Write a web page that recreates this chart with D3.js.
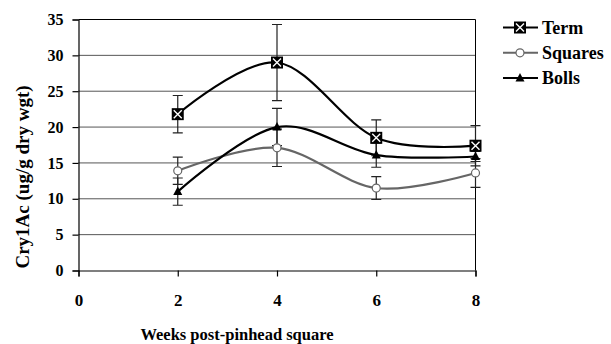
<!DOCTYPE html>
<html>
<head>
<meta charset="utf-8">
<script src="https://cdnjs.cloudflare.com/ajax/libs/d3/7.8.5/d3.min.js"></script>
<style>
	body { margin: 0; background: #fff; }
	svg text { font-family: "Liberation Serif", "Times New Roman", serif !important; font-weight: bold; fill: #000; }
</style>
</head>
<body>
<div id="chart"></div>
<script>
// chart values
const weeks = [2, 4, 6, 8];
const term = [21.8, 29.0, 18.5, 17.4];
const termErr = [2.6, 5.3, 2.5, 2.8];
const squares = [13.9, 17.1, 11.5, 13.6];
const squaresErr = [1.9, 2.6, 1.6, 2.0];
const bolls = [11.0, 20.0, 16.1, 15.9];
const bollsErr = [1.9, 2.6, 1.7, 0.7];
const xTicks = [0, 2, 4, 6, 8];
const yTicks = [0, 5, 10, 15, 20, 25, 30, 35];

const series = [
	{ name: 'Term', values: term, err: termErr, colour: '#000', marker: 'box' },
	{ name: 'Squares', values: squares, err: squaresErr, colour: '#666', marker: 'circle' },
	{ name: 'Bolls', values: bolls, err: bollsErr, colour: '#000', marker: 'triangle' }
];

const width = 611, height = 344;
const svg = d3.select('#chart').append('svg')
	.attr('width', width)
	.attr('height', height);

const x = d3.scaleLinear().domain([0, 8]).range([78.5, 475.5]);
const y = d3.scaleLinear().domain([0, 35]).range([270.5, 19.5]);

// gridlines
svg.append('g')
	.selectAll('line')
	.data(yTicks.filter(d => d > 0 && d < 35))
	.enter()
	.append('line')
		.attr('x1', x(0)).attr('x2', x(8))
		.attr('y1', d => y(d)).attr('y2', d => y(d))
		.attr('stroke', '#555')
		.attr('stroke-width', 1);

// box top + right
svg.append('path')
	.attr('d', `M${x(0)},${y(35)}H${x(8)}V${y(0)}`)
	.attr('fill', 'none')
	.attr('stroke', '#000')
	.attr('stroke-width', 1);

// axes
const yAxis = svg.append('g')
	.attr('transform', `translate(${x(0)},0)`)
	.call(d3.axisLeft(y).tickValues(yTicks).tickSizeOuter(0).tickSize(6).tickPadding(9))
	.attr('font-family', null)
	.attr('font-size', 16);

const xAxis = svg.append('g')
	.attr('transform', `translate(0,${y(0)})`)
	.call(d3.axisBottom(x).tickValues(xTicks).tickSizeOuter(0).tickSize(6).tickPadding(17))
	.attr('font-family', null)
	.attr('font-size', 17);

svg.selectAll('.domain, .tick line').attr('stroke', '#000').attr('stroke-width', 1.2);

// axis titles
svg.append('text')
	.attr('transform', 'translate(29,177) rotate(-90)')
	.attr('text-anchor', 'middle')
	.style('font-size', '19px')
	.text('Cry1Ac (ug/g dry wgt)');

svg.append('text')
	.attr('x', 237)
	.attr('y', 340)
	.attr('text-anchor', 'middle')
	.style('font-size', '16.5px')
	.text('Weeks post-pinhead square');

const line = d3.line()
	.x(d => x(d[0]))
	.y(d => y(d[1]))
	.curve(d3.curveCardinal.tension(0));

// error bars
series.forEach(s => {
	const g = svg.append('g');
	weeks.forEach((w, i) => {
		const lo = y(s.values[i] - s.err[i]);
		const hi = y(s.values[i] + s.err[i]);
		g.append('path')
			.attr('d', `M${x(w)},${lo}V${hi}M${x(w) - 5},${lo}H${x(w) + 5}M${x(w) - 5},${hi}H${x(w) + 5}`)
			.attr('fill', 'none')
			.attr('stroke', '#222')
			.attr('stroke-width', 1.2);
	});
});

function drawMarker(g, type, cx, cy, colour) {
	if (type === 'box') {
		g.append('rect')
			.attr('x', cx - 6).attr('y', cy - 6)
			.attr('width', 12).attr('height', 12)
			.attr('fill', '#000');
		g.append('path')
			.attr('d', `M${cx - 4},${cy - 4}L${cx + 4},${cy + 4}M${cx + 4},${cy - 4}L${cx - 4},${cy + 4}`)
			.attr('stroke', '#fff')
			.attr('stroke-width', 1.4);
	} else if (type === 'circle') {
		g.append('circle')
			.attr('cx', cx).attr('cy', cy).attr('r', 4)
			.attr('fill', '#fff')
			.attr('stroke', colour)
			.attr('stroke-width', 1.2);
	} else {
		g.append('path')
			.attr('d', `M${cx},${cy - 5}L${cx + 4.5},${cy + 3.5}L${cx - 4.5},${cy + 3.5}Z`)
			.attr('fill', '#000');
	}
}

// lines + markers
series.forEach(s => {
	const pts = weeks.map((w, i) => [w, s.values[i]]);
	svg.append('path')
		.datum(pts)
		.attr('d', line)
		.attr('fill', 'none')
		.attr('stroke', s.colour)
		.attr('stroke-width', 2.2);
});
series.forEach(s => {
	const g = svg.append('g');
	weeks.forEach((w, i) => drawMarker(g, s.marker, x(w), y(s.values[i]), s.colour));
});

// legend
const legend = svg.append('g');
series.forEach((s, i) => {
	const ly = 27.5 + i * 25.3;
	legend.append('line')
		.attr('x1', 503).attr('x2', 538)
		.attr('y1', ly).attr('y2', ly)
		.attr('stroke', s.colour)
		.attr('stroke-width', 2);
	drawMarker(legend, s.marker, 520, ly, s.colour);
	legend.append('text')
		.attr('x', 542)
		.attr('y', ly + 6)
		.style('font-size', '18px')
		.text(s.name);
});
</script>
</body>
</html>
